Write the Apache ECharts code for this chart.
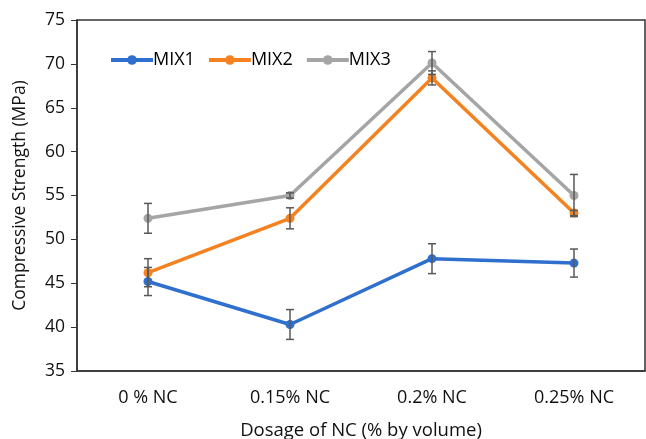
<!DOCTYPE html>
<html>
<head>
<meta charset="utf-8">
<script src="https://cdn.jsdelivr.net/npm/echarts@6/dist/echarts.min.js"></script>
<style>html,body{margin:0;padding:0;background:#fff}#c{width:646px;height:439px}</style>
</head>
<body>
<div id="c"></div>
<script>
const categories = ['0 % NC', '0.15% NC', '0.2% NC', '0.25% NC'];
const mix1 = [45.2, 40.3, 47.8, 47.3];
const mix2 = [46.2, 52.4, 68.4, 53.0];
const mix3 = [52.4, 55.0, 70.1, 55.0];
const err1 = [1.6, 1.7, 1.7, 1.6];
const err2 = [1.6, 1.2, 0.8, 0.3];
const err3 = [1.7, 0.3, 1.3, 2.4];
const yTicks = [35, 40, 45, 50, 55, 60, 65, 70, 75];

const colors = ['#2F6FCD', '#F58220', '#A5A5A5'];
const FONT = '"Open Sans", "Noto Sans", sans-serif';

function errData(vals, errs) {
  return vals.map((v, i) => [i, v - errs[i], v + errs[i]]);
}
function errSeries(vals, errs) {
  return {
    type: 'custom',
    silent: true,
    z: 5,
    data: errData(vals, errs),
    renderItem: function (params, api) {
      const x = api.value(0);
      const lo = api.coord([x, api.value(1)]);
      const hi = api.coord([x, api.value(2)]);
      const w = 4;
      const st = { stroke: '#595959', lineWidth: 1.5 };
      return {
        type: 'group',
        children: [
          { type: 'line', shape: { x1: lo[0], y1: lo[1], x2: hi[0], y2: hi[1] }, style: st },
          { type: 'line', shape: { x1: lo[0] - w, y1: lo[1], x2: lo[0] + w, y2: lo[1] }, style: st },
          { type: 'line', shape: { x1: hi[0] - w, y1: hi[1], x2: hi[0] + w, y2: hi[1] }, style: st }
        ]
      };
    }
  };
}
function lineSeries(name, vals, color) {
  return {
    name: name,
    type: 'line',
    data: vals,
    z: 3,
    symbol: 'circle',
    symbolSize: 9,
    itemStyle: { color: color },
    lineStyle: { color: color, width: 3.5 }
  };
}

const chart = echarts.init(document.getElementById('c'), null, { renderer: 'canvas' });
chart.setOption({
  animation: false,
  backgroundColor: '#fff',
  textStyle: { fontFamily: FONT },
  grid: { left: 77, right: 1, top: 20, bottom: 68, show: true, borderColor: '#333', borderWidth: 1.5, outerBoundsMode: 'none', containLabel: false },
  legend: {
    left: 104,
    top: 46,
    itemWidth: 42,
    itemHeight: 12,
    itemGap: 12,
    itemStyle: { borderWidth: 0 },
    lineStyle: { width: 4 },
    textStyle: { fontFamily: FONT, fontSize: 18, color: '#000', padding: [0, 0, 0, -5] },
    data: ['MIX1', 'MIX2', 'MIX3']
  },
  xAxis: {
    type: 'category',
    data: categories,
    boundaryGap: true,
    axisLine: { lineStyle: { color: '#333', width: 1.5 } },
    axisTick: { alignWithLabel: true, length: 5, lineStyle: { color: '#333' } },
    axisLabel: { color: '#111', fontSize: 18, fontFamily: FONT, margin: 18 },
    name: 'Dosage of NC (% by volume)',
    nameLocation: 'middle',
    nameGap: 50,
    nameTextStyle: { color: '#111', fontSize: 18.5, fontFamily: FONT }
  },
  yAxis: {
    type: 'value',
    min: yTicks[0],
    max: yTicks[yTicks.length - 1],
    interval: 5,
    splitLine: { show: false },
    axisLine: { show: true, lineStyle: { color: '#333', width: 1.5 } },
    axisTick: { show: true, length: 6, lineStyle: { color: '#333' } },
    axisLabel: { color: '#111', fontSize: 17.5, fontFamily: FONT, margin: 12 },
    name: 'Compressive Strength (MPa)',
    nameLocation: 'middle',
    nameGap: 48,
    nameTextStyle: { color: '#111', fontSize: 17.5, fontFamily: FONT }
  },
  series: [
    lineSeries('MIX1', mix1, colors[0]),
    lineSeries('MIX2', mix2, colors[1]),
    lineSeries('MIX3', mix3, colors[2]),
    errSeries(mix1, err1),
    errSeries(mix2, err2),
    errSeries(mix3, err3)
  ]
});
</script>
</body>
</html>
